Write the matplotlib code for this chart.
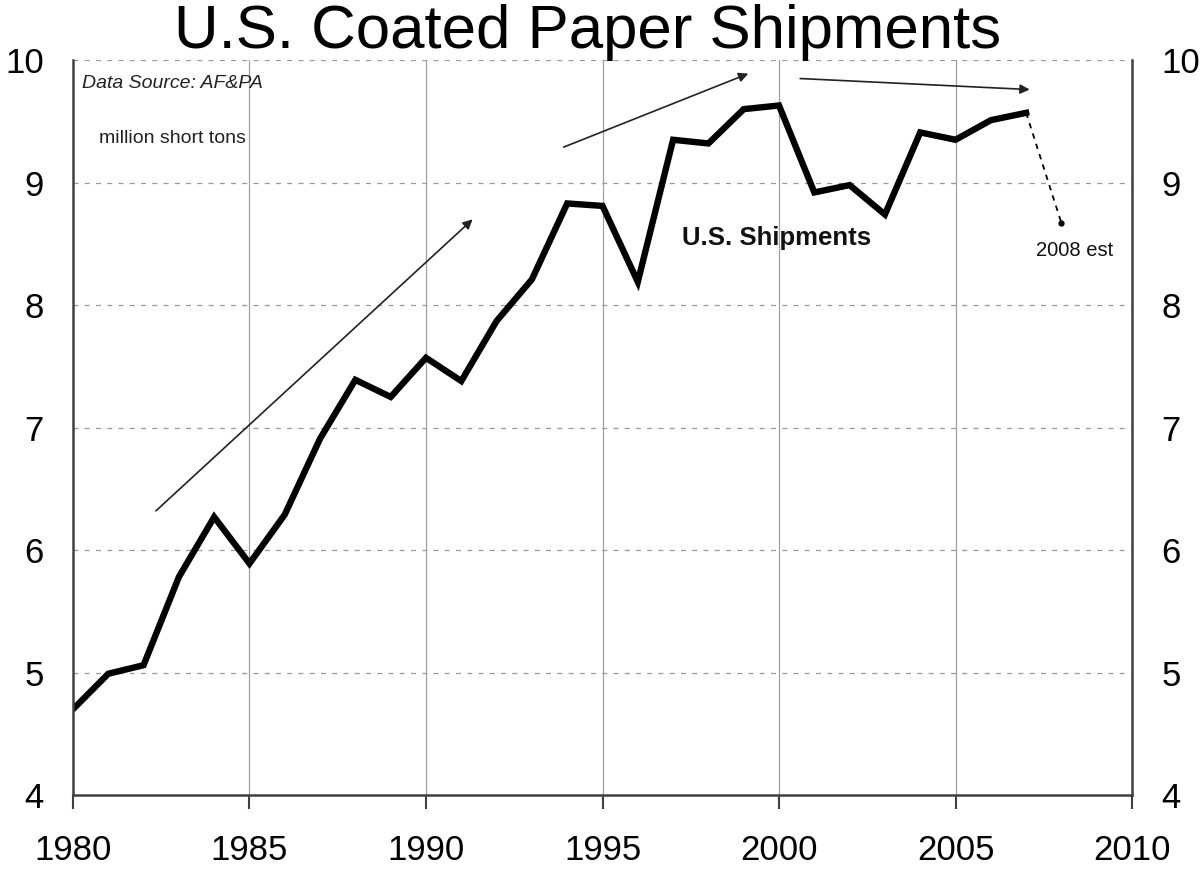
import numpy as np
import matplotlib.pyplot as plt
import matplotlib

matplotlib.rcParams['font.family'] = ['Liberation Sans', 'DejaVu Sans']

# U.S. coated paper shipments, million short tons
years = np.arange(1980, 2008)
shipments = [4.70, 4.99, 5.06, 5.78, 6.27, 5.89, 6.29, 6.91, 7.39, 7.25,
             7.57, 7.38, 7.87, 8.21, 8.83, 8.81, 8.19, 9.35, 9.32, 9.60,
             9.63, 8.92, 8.98, 8.74, 9.41, 9.35, 9.51, 9.57]
est_year = 2008
est_value = 8.67

xticks = [1980, 1985, 1990, 1995, 2000, 2005, 2010]
yticks = [4, 5, 6, 7, 8, 9, 10]

fig = plt.figure(figsize=(12.02, 8.72), dpi=100, facecolor='white')
ax = fig.add_axes([0.0607, 0.0883, 0.8811, 0.8427])

ax.plot(years, shipments, color='black', linewidth=4.6, solid_joinstyle='miter')
ax.plot([years[-1], est_year], [shipments[-1], est_value], color='black',
        linewidth=1.3, linestyle=(0, (3, 3)))
ax.plot(est_year, est_value, 'o', color='black', markersize=3.5)

ax.set_xlim(1980, 2010)
ax.set_ylim(4, 10)
ax.set_xticks(xticks)
ax.set_yticks(yticks)

# dashed horizontal grid, solid vertical grid
for y in yticks[1:]:
    ax.axhline(y, color='#9a9a9a', linewidth=0.9, linestyle=(0, (4, 5)), zorder=0)
for x in xticks[1:-1]:
    ax.axvline(x, color='#a0a0a0', linewidth=0.9, zorder=0)

ax.spines['top'].set_visible(False)
for s in ['left', 'right', 'bottom']:
    ax.spines[s].set_color('#404040')
    ax.spines[s].set_linewidth(1.8)

ax.tick_params(axis='x', direction='out', length=10, width=1.5, color='#404040',
               labelsize=25, pad=18)
ax.tick_params(axis='y', length=0, labelsize=25, pad=21,
               labelleft=True, labelright=True)

# trend arrows
arrow_kw = dict(arrowstyle='-|>', color='#222222', lw=1.2, mutation_scale=14,
                shrinkA=0, shrinkB=0)
ax.annotate('', xy=(1991.32, 8.70), xytext=(1982.35, 6.32), arrowprops=arrow_kw)
ax.annotate('', xy=(1999.13, 9.89), xytext=(1993.9, 9.29), arrowprops=arrow_kw)
ax.annotate('', xy=(2007.1, 9.76), xytext=(2000.6, 9.85), arrowprops=arrow_kw)

ax.text(1999.93, 8.55, 'U.S. Shipments', fontsize=18.5, fontweight='bold',
        ha='center', va='center', color='#111111')
ax.text(2008.36, 8.45, '2008 est', fontsize=14.5, ha='center', va='center',
        color='#111111')
ax.text(0.009, 0.98, 'Data Source: AF&PA', transform=ax.transAxes,
        fontsize=14, style='italic', ha='left', va='top', color='#222222')
ax.text(0.025, 0.905, 'million short tons', transform=ax.transAxes,
        fontsize=14, ha='left', va='top', color='#222222')

fig.text(0.489, 0.963, 'U.S. Coated Paper Shipments', fontsize=44.5,
         ha='center', va='center')

fig.savefig('out.png', dpi=100)
